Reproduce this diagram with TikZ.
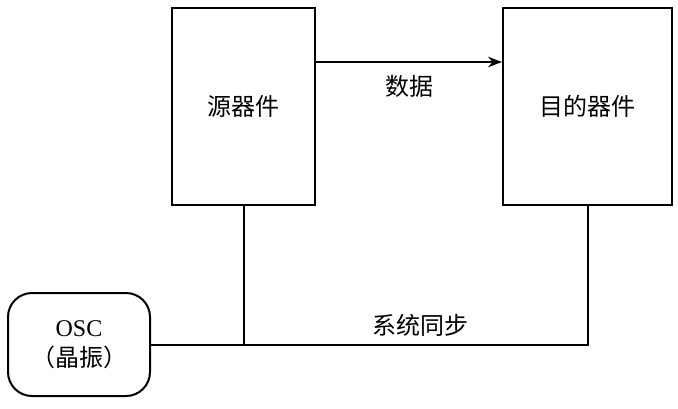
\documentclass[tikz,border=0pt]{standalone}
\usepackage{fontspec}
\setmainfont{Liberation Serif}
\newfontfamily\cjk{Noto Sans CJK SC}
\usetikzlibrary{arrows.meta,positioning}

\begin{document}
\begin{tikzpicture}[x=0.5pt,y=-0.5pt,
  dev/.style={draw, line width=1pt, minimum width=71.5pt, minimum height=98.5pt,
              font=\cjk\fontsize{12}{14}\selectfont},
  osc/.style={draw, line width=1pt, rounded corners=12pt, minimum width=71pt,
              minimum height=51.5pt, align=center, font=\fontsize{12}{15}\selectfont},
  link/.style={line width=1pt},
  lbl/.style={font=\cjk\fontsize{12}{14}\selectfont},
]
  \useasboundingbox (0,0) rectangle (678,408);

  \node[dev] (src) at (243.5,106.5) {源器件};
  \node[dev, minimum width=84.5pt] (dst) at (587.5,106.5) {目的器件};
  \node[osc] (clk) at (79,344.5) {OSC\\{\cjk（晶振）}};

  \draw[link, -{Stealth[length=7pt]}] (src.east |- 0,62) -- (dst.west |- 0,62)
    node[midway, below=3pt, lbl] {数据};

  \coordinate (jn) at (src.south |- clk.east);
  \coordinate (cr) at (dst.south |- clk.east);
  \draw[link] (clk.east) -- (cr) -- (dst.south);
  \draw[link] (src.south) -- (jn);
  \node[lbl] (sync) at (420,325) {系统同步};
\end{tikzpicture}
\end{document}
